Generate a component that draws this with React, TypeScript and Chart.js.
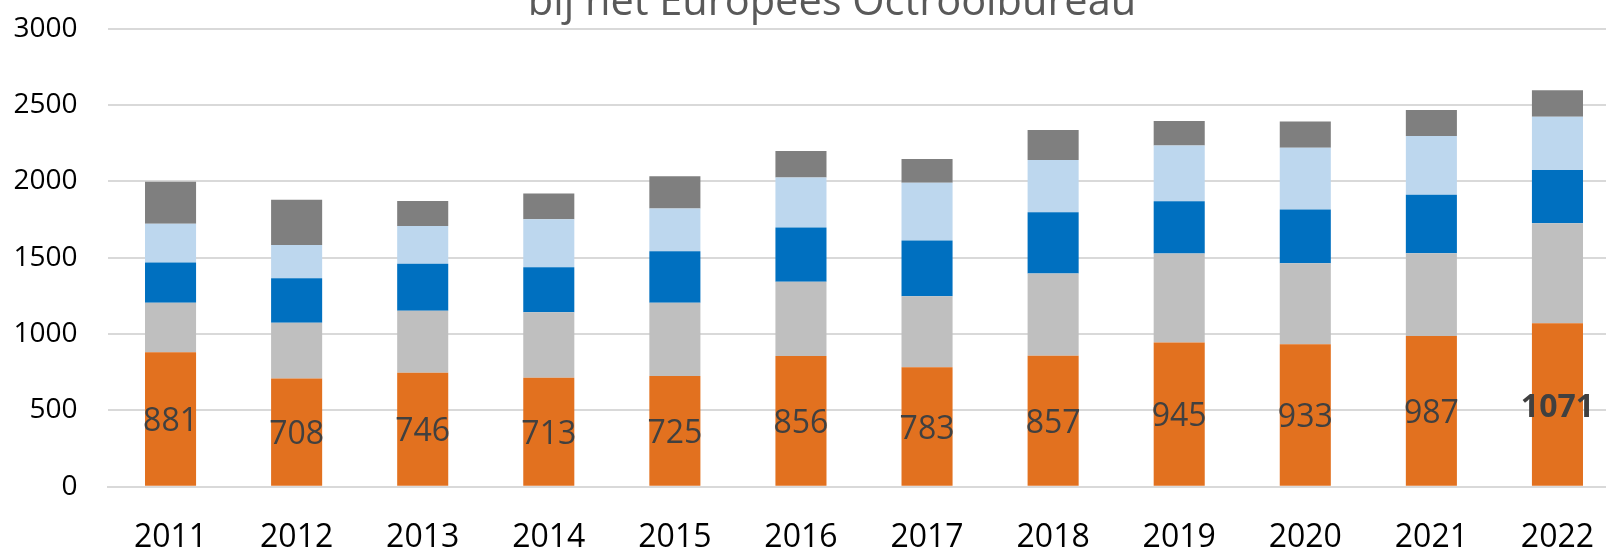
import { useEffect, useRef } from 'react';
import { Chart, registerables } from 'chart.js';

Chart.register(...registerables);

const years = ['2011', '2012', '2013', '2014', '2015', '2016', '2017', '2018', '2019', '2020', '2021', '2022'];
const orangeValues = [881, 708, 746, 713, 725, 856, 783, 857, 945, 933, 987, 1071];
const lightGrayValues = [324, 366, 407, 429, 480, 486, 465, 540, 582, 531, 542, 654];
const blueValues = [264, 292, 307, 296, 338, 355, 364, 400, 342, 351, 384, 349];
const lightBlueValues = [253, 218, 248, 314, 279, 329, 379, 343, 366, 405, 384, 349];
const darkGrayValues = [276, 296, 164, 168, 211, 173, 155, 196, 160, 172, 170, 174];
const boldLabelYear = '2022';
const titleText = 'bij het Europees Octrooibureau';
const yTicks = { min: 0, max: 3000, step: 500 };

const FONT = "'Open Sans', 'DejaVu Sans', sans-serif";

const titlePlugin = {
  id: 'cutTitle',
  afterDraw(chart: any) {
    const ctx = chart.ctx;
    ctx.save();
    ctx.font = `400 41.5px ${FONT}`;
    ctx.fillStyle = '#595959';
    ctx.textAlign = 'center';
    ctx.textBaseline = 'alphabetic';
    ctx.fillText(titleText, chart.width / 2, 15);
    ctx.restore();
  },
};

const labelPlugin = {
  id: 'centerLabels',
  afterDatasetsDraw(chart: any) {
    const ctx = chart.ctx;
    const meta = chart.getDatasetMeta(0);
    ctx.save();
    ctx.fillStyle = '#404040';
    ctx.textAlign = 'center';
    ctx.textBaseline = 'middle';
    meta.data.forEach((el: any, i: number) => {
      const bold = years[i] === boldLabelYear;
      ctx.font = `${bold ? '700 ' : ''}32px ${FONT}`;
      ctx.fillText(String(orangeValues[i]), el.x, (el.y + el.base) / 2 + 3);
    });
    ctx.restore();
  },
};

export default function App() {
  const ref = useRef<HTMLCanvasElement>(null);
  useEffect(() => {
    const chart = new Chart(ref.current!, {
      type: 'bar',
      data: {
        labels: years,
        datasets: [
          { data: orangeValues, backgroundColor: '#E2711F' },
          { data: lightGrayValues, backgroundColor: '#BFBFBF' },
          { data: blueValues, backgroundColor: '#0070C0' },
          { data: lightBlueValues, backgroundColor: '#BDD7EE' },
          { data: darkGrayValues, backgroundColor: '#7F7F7F' },
        ],
      },
      options: {
        responsive: false,
        animation: false,
        layout: { padding: { top: 28.7, right: 43.5, bottom: 0, left: 0 } },
        datasets: { bar: { categoryPercentage: 1, barPercentage: 0.405 } },
        plugins: { legend: { display: false }, tooltip: { enabled: false }, title: { display: false } },
        scales: {
          x: {
            stacked: true,
            grid: { display: false, drawTicks: false },
            border: { display: true, color: '#D9D9D9', width: 2 },
            ticks: { color: '#000', font: { family: FONT, size: 32 }, padding: 32 },
            afterFit: (s: any) => { s.height = 62.3; s.paddingLeft = 0; s.paddingRight = 0; },
          },
          y: {
            stacked: true,
            min: yTicks.min,
            max: yTicks.max,
            grid: { color: '#D9D9D9', lineWidth: 2, drawTicks: false },
            border: { display: false },
            ticks: {
              stepSize: yTicks.step,
              color: '#000',
              font: { family: FONT, size: 28 },
              padding: 30,
              callback: (v: any) => String(v),
            },
            afterFit: (s: any) => { s.width = 107.5; s.paddingTop = 0; s.paddingBottom = 0; },
          },
        },
      },
      plugins: [titlePlugin, labelPlugin],
    });
    return () => chart.destroy();
  }, []);
  return (
    <div style={{ position: 'fixed', left: 0, top: 0, width: '100vw', height: '100vh', overflow: 'hidden', background: '#fff' }}>
      <canvas ref={ref} width={1664} height={549} style={{ display: 'block', width: 1664, height: 549 }} />
    </div>
  );
}
